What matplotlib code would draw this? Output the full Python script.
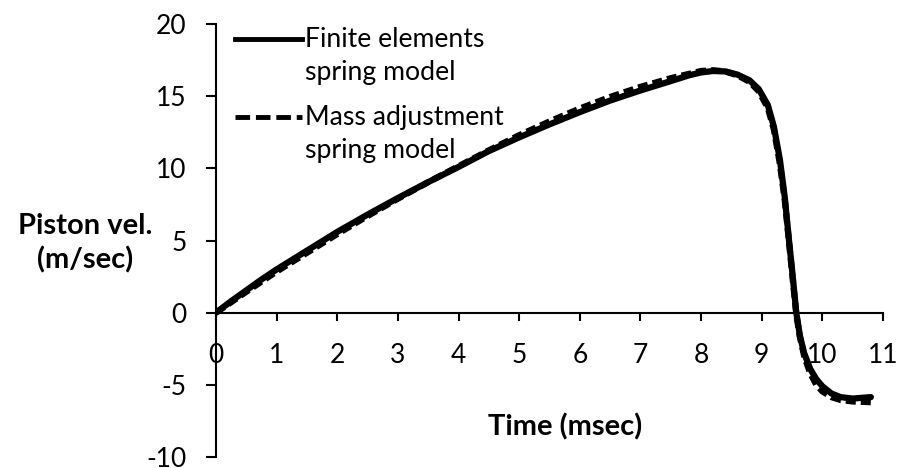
import matplotlib
import matplotlib.pyplot as plt
from matplotlib.lines import Line2D

matplotlib.use("Agg")

plt.rcParams["font.family"] = ["Lato", "DejaVu Sans"]
plt.rcParams["axes.unicode_minus"] = False

# Finite elements spring model: time (msec), piston velocity (m/sec)
t_fe = [0, 0.25, 0.5, 0.75, 1.0, 1.5, 2.0, 2.5, 3.0, 3.5, 4.0, 4.5, 5.0,
        5.5, 6.0, 6.5, 7.0, 7.5, 7.8, 8.0, 8.2, 8.4, 8.6, 8.8, 8.95, 9.1,
        9.2, 9.3, 9.38, 9.45, 9.5, 9.57, 9.63, 9.7, 9.8, 9.9, 10.0, 10.15,
        10.3, 10.5, 10.8]
v_fe = [0, 0.8, 1.55, 2.3, 3.0, 4.3, 5.6, 6.8, 7.95, 9.05, 10.1, 11.2, 12.15,
        13.05, 13.9, 14.7, 15.4, 16.05, 16.45, 16.65, 16.75, 16.72, 16.5, 16.1,
        15.5, 14.4, 12.9, 10.6, 8.0, 5.0, 3.0, 0.0, -1.6, -2.8, -3.9, -4.6,
        -5.1, -5.6, -5.85, -5.95, -5.85]

# Mass adjustment spring model
t_ma = [0, 0.5, 1.0, 1.5, 2.0, 2.5, 3.0, 3.5, 4.0, 4.5, 5.0, 5.5, 6.0, 6.5,
        7.0, 7.5, 8.0, 8.2, 8.4, 8.6, 8.8, 8.95, 9.1, 9.2, 9.3, 9.38, 9.45,
        9.5, 9.57, 9.63, 9.7, 9.8, 9.9, 10.0, 10.15, 10.3, 10.5, 10.8]
v_ma = [0, 1.45, 2.85, 4.15, 5.45, 6.7, 7.9, 9.05, 10.15, 11.25, 12.3, 13.25,
        14.15, 14.95, 15.65, 16.25, 16.75, 16.8, 16.72, 16.45, 16.0, 15.35,
        14.2, 12.7, 10.3, 7.8, 4.9, 2.8, -0.1, -1.7, -3.0, -4.2, -5.0, -5.45,
        -5.85, -6.05, -6.15, -6.2]

x_ticks = list(range(0, 12))
y_ticks = [-10, -5, 0, 5, 10, 15, 20]

fig = plt.figure(figsize=(8.98, 4.68), dpi=100)
ax = fig.add_axes([0.2405, 0.0235, 0.7428, 0.925])

ax.plot(t_fe, v_fe, color="black", lw=4.5, solid_capstyle="round")
ax.plot(t_ma, v_ma, color="black", lw=4.5, dashes=(1.6, 0.8))

ax.set_xlim(0, 11)
ax.set_ylim(-10, 20)
ax.set_xticks(x_ticks)
ax.set_yticks(y_ticks)

# axes cross at the origin
ax.spines["left"].set_position(("data", 0))
ax.spines["bottom"].set_position(("data", 0))
ax.spines["top"].set_visible(False)
ax.spines["right"].set_visible(False)
for s in ("left", "bottom"):
    ax.spines[s].set_linewidth(1.5)

ax.tick_params(axis="x", direction="out", length=6, width=1.5, pad=16,
               labelsize=19, colors="black")
ax.tick_params(axis="y", direction="out", length=7, width=1.5, pad=14,
               labelsize=19, colors="black")

ax.set_xlabel("Time (msec)", fontsize=21, fontweight="bold")
ax.xaxis.set_label_coords(0.523, 0.102)
ax.set_ylabel("Piston vel.\n(m/sec)", fontsize=21, fontweight="bold",
              rotation=0, ha="center", va="center", linespacing=1.35)
ax.yaxis.set_label_coords(-0.196, 0.494)

# legend, handle on the first text line
entries = [
    ("-", 0.965, ["Finite elements", "spring model"]),
    ("--", 0.785, ["Mass adjustment", "spring model"]),
]
for ls, y, lines in entries:
    h = Line2D([0.0285, 0.129], [y, y], transform=ax.transAxes,
               color="black", lw=3.5)
    if ls == "--":
        h.set_dashes((3.0, 1.2))
    ax.add_line(h)
    for i, txt in enumerate(lines):
        ax.text(0.1334, y - i * 0.0762, txt, transform=ax.transAxes,
                fontsize=19.2, ha="left", va="center")

fig.savefig("out.png", dpi=100)
